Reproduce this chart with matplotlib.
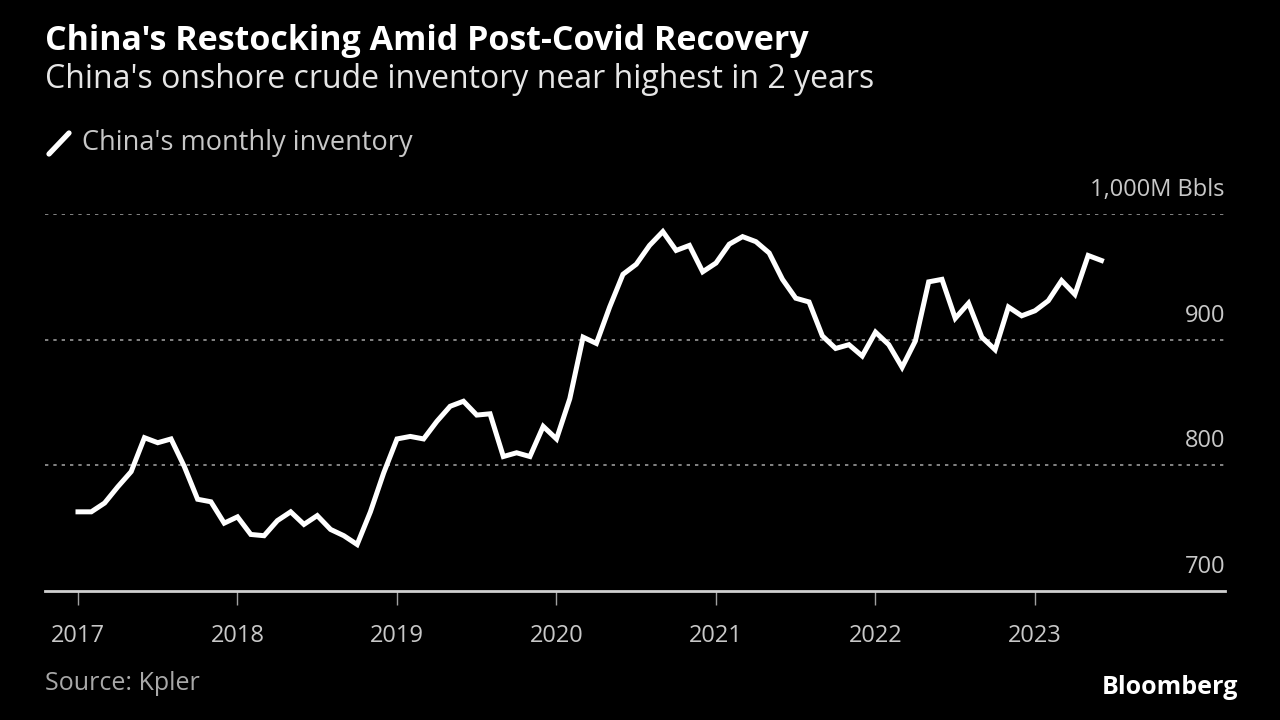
import numpy as np
import matplotlib
matplotlib.use("Agg")
import matplotlib.pyplot as plt
from matplotlib.transforms import offset_copy, blended_transform_factory
from matplotlib.lines import Line2D

plt.rcParams['font.family'] = ['Open Sans', 'DejaVu Sans']

# ── Data (monthly, Jan 2017 .. Jun 2023, million barrels) ──
start_year = 2017
inventory = [
    763, 763, 770, 783, 795, 822, 818, 821, 799, 773, 771, 754,   # 2017
    759, 745, 744, 756, 763, 753, 760, 749, 744, 737, 763, 794,   # 2018
    821, 823, 821, 835, 847, 851, 840, 841, 807, 810, 807, 831,   # 2019
    821, 853, 902, 897, 926, 952, 960, 975, 986, 971, 975, 954,   # 2020
    961, 976, 982, 978, 969, 948, 933, 930, 903, 893, 896, 887,   # 2021
    906, 896, 878, 899, 946, 948, 917, 929, 902, 892, 926, 919,   # 2022
    923, 931, 947, 936, 967, 963,                                 # 2023
]
year_ticks = [2017, 2018, 2019, 2020, 2021, 2022, 2023]
y_ticks = [700, 800, 900, 1000]
y_labels = ["700", "800", "900", "1,000M Bbls"]

title = "China's Restocking Amid Post-Covid Recovery"
subtitle = "China's onshore crude inventory near highest in 2 years"
legend_label = "China's monthly inventory"
source = "Source: Kpler"

BG = "black"
GREY = "#c8c8c8"

x = start_year + np.arange(len(inventory)) / 12.0

fig = plt.figure(figsize=(12.8, 7.2), dpi=100, facecolor=BG)
ax = fig.add_axes([45 / 1280, 1 - 591 / 720, 1180 / 1280, (591 - 214) / 720])
ax.set_facecolor(BG)

ax.plot(x, inventory, color="white", lw=3.6, solid_joinstyle="miter", clip_on=False, zorder=3)

ax.set_xlim(2017 - 33 / 159.5, 2017 + 1147 / 159.5)
ax.set_ylim(700, 1000)

# gridlines (dotted) except at baseline
for v in y_ticks[1:]:
    ax.axhline(v, color="#9a9a9a", lw=1.2, ls=(0, (2, 3)), zorder=1)

# y labels sit above their gridlines on the right
tr = offset_copy(blended_transform_factory(ax.transAxes, ax.transData), fig=fig, x=0, y=12, units="dots")
for v, lab in zip(y_ticks, y_labels):
    ax.text(1.0, v, lab, transform=tr, ha="right", va="bottom", color=GREY, fontsize=17)

for s in ["top", "right", "left"]:
    ax.spines[s].set_visible(False)
ax.spines["bottom"].set_color("#d0d0d0")
ax.spines["bottom"].set_linewidth(2)
ax.set_yticks([])
ax.set_xticks(year_ticks)
ax.set_xticklabels([str(y) for y in year_ticks])
ax.tick_params(axis="x", colors="#a0a0a0", length=10, width=1, pad=14, labelcolor=GREY, labelsize=17)

# titles
fig.text(45 / 1280, 1 - 41 / 720, title, color="white", fontsize=24.5, fontweight="bold", va="center", ha="left")
fig.text(45 / 1280, 1 - 80 / 720, subtitle, color="#e6e6e6", fontsize=23, va="center", ha="left")

# legend
fig.add_artist(Line2D([49 / 1280, 69 / 1280], [1 - 154 / 720, 1 - 133 / 720], color="white", lw=3.8,
                      solid_capstyle="round", transform=fig.transFigure))
fig.text(82 / 1280, 1 - 143 / 720, legend_label, color=GREY, fontsize=19.5, va="center", ha="left")

# footer
fig.text(45 / 1280, 1 - 683 / 720, source, color="#a8a8a8", fontsize=18, va="center", ha="left")
fig.text(1238 / 1280, 1 - 688 / 720, "Bloomberg", color="white", fontsize=18, fontweight="bold",
         va="center", ha="right")

fig.savefig("out.png", dpi=100, facecolor=BG)
